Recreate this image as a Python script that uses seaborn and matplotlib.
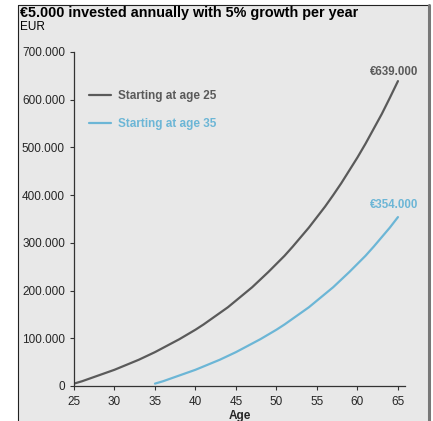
import pandas as pd
import matplotlib.pyplot as plt
import seaborn as sns
from matplotlib.patches import Rectangle
from matplotlib.lines import Line2D

# values (thousand EUR per age)
ages_25 = list(range(25, 66))
values_25 = [5, 10, 16, 22, 28, 34, 41, 48, 55, 63, 71, 80, 89, 98, 108, 118,
             129, 141, 153, 165, 179, 193, 207, 223, 239, 256, 273, 292, 312,
             332, 354, 376, 400, 425, 452, 479, 508, 539, 570, 604, 639]
ages_35 = list(range(35, 66))
values_35 = [5, 10, 16, 22, 28, 34, 41, 48, 55, 63, 71, 80, 89, 98, 108, 118,
             129, 141, 153, 165, 179, 193, 207, 223, 239, 256, 273, 292, 312,
             332, 354]

series_labels = ["Starting at age 25", "Starting at age 35"]
end_labels = ["€639.000", "€354.000"]
x_ticks = [25, 30, 35, 40, 45, 50, 55, 60, 65]
y_ticks = [0, 100000, 200000, 300000, 400000, 500000, 600000, 700000]
y_tick_labels = ["0", "100.000", "200.000", "300.000", "400.000",
                 "500.000", "600.000", "700.000"]

GRAY = "#5a5a5a"
BLUE = "#6cb6d6"
BG = "#e8e8e8"


def main():
    sns.set_style("white")
    plt.rcParams["font.family"] = ["Liberation Sans", "DejaVu Sans"]

    df = pd.concat([
        pd.DataFrame({"age": ages_25, "value": [v * 1000 for v in values_25],
                      "series": series_labels[0]}),
        pd.DataFrame({"age": ages_35, "value": [v * 1000 for v in values_35],
                      "series": series_labels[1]}),
    ])

    fig = plt.figure(figsize=(4.33, 4.21), dpi=100)
    fig.patch.set_facecolor("white")

    # gray panel with borders
    fig.patches.append(Rectangle((18 / 433, 0), 410 / 433, 416 / 421,
                                 transform=fig.transFigure, facecolor=BG,
                                 edgecolor="none", zorder=-5))
    fig.add_artist(Line2D([18 / 433, 18 / 433], [0, 416 / 421],
                          transform=fig.transFigure, color="#222", lw=0.8))
    fig.add_artist(Line2D([18 / 433, 429 / 433], [416 / 421, 416 / 421],
                          transform=fig.transFigure, color="#222", lw=0.8))
    fig.add_artist(Line2D([429 / 433, 429 / 433], [0, 416 / 421],
                          transform=fig.transFigure, color="#777", lw=2.2))

    ax = fig.add_axes([74 / 433, 35 / 421, 331 / 433, 334 / 421])
    ax.set_facecolor("none")
    ax.set_zorder(2)

    sns.lineplot(
        data=df,
        x="age",
        y="value",
        hue="series",
        palette=[GRAY, BLUE],
        linewidth=1.6,
        ax=ax
    )

    ax.set_xlim(25, 65.87)
    ax.set_ylim(0, 700000)
    ax.set_xticks(x_ticks)
    ax.set_xticklabels([str(t) for t in x_ticks], fontsize=8.5)
    ax.set_yticks(y_ticks)
    ax.set_yticklabels(y_tick_labels, fontsize=8.5)

    for side in ["top", "right"]:
        ax.spines[side].set_visible(False)
    for side in ["left", "bottom"]:
        ax.spines[side].set_color("#333333")
        ax.spines[side].set_linewidth(0.9)

    ax.tick_params(axis="y", direction="out", length=3, width=0.8,
                   color="#333333", pad=3.5, left=True)
    ax.tick_params(axis="x", direction="out", length=3, width=0.8,
                   color="#333333", pad=4.5, bottom=True)

    ax.set_xlabel("Age", fontsize=8.5, fontweight="bold", labelpad=1.2)
    ax.set_ylabel("")

    ax.legend(
        loc="upper left",
        bbox_to_anchor=(0.013, 0.918),
        frameon=False,
        handlelength=1.9,
        handletextpad=0.6,
        labelcolor="linecolor",
        prop={"weight": "bold", "size": 8.5},
        labelspacing=1.35
    )

    ax.annotate(end_labels[0], xy=(65, values_25[-1] * 1000),
                xytext=(14.5, 6.5), textcoords="offset points",
                ha="right", va="center", color=GRAY, fontsize=8.3,
                fontweight="bold")
    ax.annotate(end_labels[1], xy=(65, values_35[-1] * 1000),
                xytext=(14.5, 9), textcoords="offset points",
                ha="right", va="center", color=BLUE, fontsize=8.3,
                fontweight="bold")

    fig.text(20 / 433, 1 - 13 / 421, "€5.000 invested annually with 5% growth per year",
             fontsize=10.4, fontweight="bold", ha="left", va="center", color="black")
    fig.text(20 / 433, 1 - 27 / 421, "EUR", fontsize=8.5, ha="left",
             va="center", color="black")

    plt.savefig("out.png", dpi=100, facecolor=fig.get_facecolor())


if __name__ == "__main__":
    main()
